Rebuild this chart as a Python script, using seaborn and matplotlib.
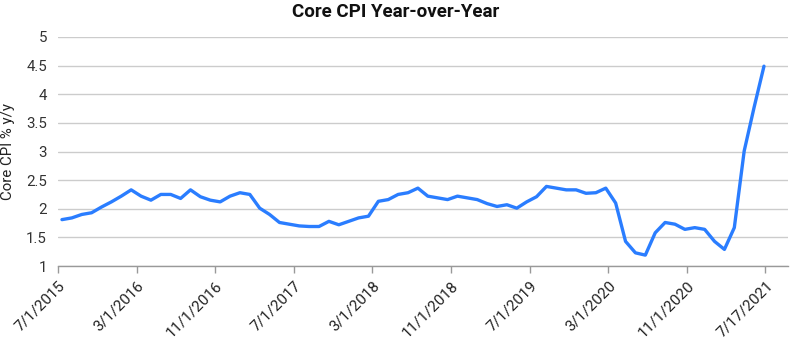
import numpy as np
import pandas as pd
import matplotlib
matplotlib.use("Agg")
import matplotlib.pyplot as plt
import seaborn as sns

# Monthly Core CPI y/y, Jul 2015 .. Jun 2021
months = pd.date_range("2015-07-01", periods=72, freq="MS")
core_cpi = [1.81, 1.84, 1.90, 1.93, 2.03, 2.12, 2.22, 2.33, 2.22, 2.15,
            2.25, 2.25, 2.18, 2.33, 2.21, 2.15, 2.12, 2.22, 2.28, 2.25,
            2.01, 1.90, 1.76, 1.73, 1.70, 1.69, 1.69, 1.78, 1.72, 1.78,
            1.84, 1.87, 2.13, 2.16, 2.25, 2.28, 2.36, 2.22, 2.19, 2.16,
            2.22, 2.19, 2.16, 2.09, 2.04, 2.07, 2.01, 2.12, 2.21, 2.39,
            2.36, 2.33, 2.33, 2.27, 2.28, 2.36, 2.10, 1.43, 1.23, 1.19,
            1.58, 1.76, 1.73, 1.64, 1.67, 1.64, 1.43, 1.29, 1.67, 3.01,
            3.77, 4.49]
tick_labels = ["7/1/2015", "3/1/2016", "11/1/2016", "7/1/2017", "3/1/2018",
               "11/1/2018", "7/1/2019", "3/1/2020", "11/1/2020", "7/17/2021"]
y_ticks = [1, 1.5, 2, 2.5, 3, 3.5, 4, 4.5, 5]
y_tick_labels = ["1", "1.5", "2", "2.5", "3", "3.5", "4", "4.5", "5"]

df = pd.DataFrame({"idx": np.arange(len(months)), "value": core_cpi})

sns.set_theme(style="white")
plt.rcParams["font.family"] = ["Roboto", "DejaVu Sans"]

W, H = 792, 360
fig = plt.figure(figsize=(W / 100, H / 100), dpi=100)
ax = fig.add_axes([58 / W, (H - 266) / H, (788 - 58) / W, (266 - 37) / H])

sns.lineplot(data=df, x="idx", y="value", ax=ax, color="#2a7dff",
             linewidth=2.4, solid_joinstyle="round", solid_capstyle="round")

ax.set_ylim(1, 5)
ax.set_xlim(-0.4, 73.43)
ax.set_yticks(y_ticks)
ax.set_yticklabels(y_tick_labels, fontsize=10.8, color="#333333")
xt = np.linspace(-0.4, 71.15, len(tick_labels))
ax.set_xticks(xt)
ax.set_xticklabels(tick_labels, rotation=45, ha="right", rotation_mode="anchor",
                   fontsize=11, color="#222222")

ax.yaxis.grid(True, color="#cccccc", linewidth=1)
ax.xaxis.grid(False)
for s in ["top", "right", "left"]:
    ax.spines[s].set_visible(False)
ax.spines["bottom"].set_color("#999999")
ax.spines["bottom"].set_linewidth(1)
ax.tick_params(axis="x", length=5, color="#999999", width=1, pad=4, bottom=True)
ax.tick_params(axis="y", length=0, pad=8)

ax.set_xlabel("")
ax.set_ylabel("Core CPI % y/y", fontsize=10.8, color="#222222", labelpad=8)

fig.text(0.5, 1 - 12 / H, "Core CPI Year-over-Year", ha="center", va="center",
         fontsize=13.5, fontweight="bold", color="#111111")

fig.savefig("out.png", dpi=100)
